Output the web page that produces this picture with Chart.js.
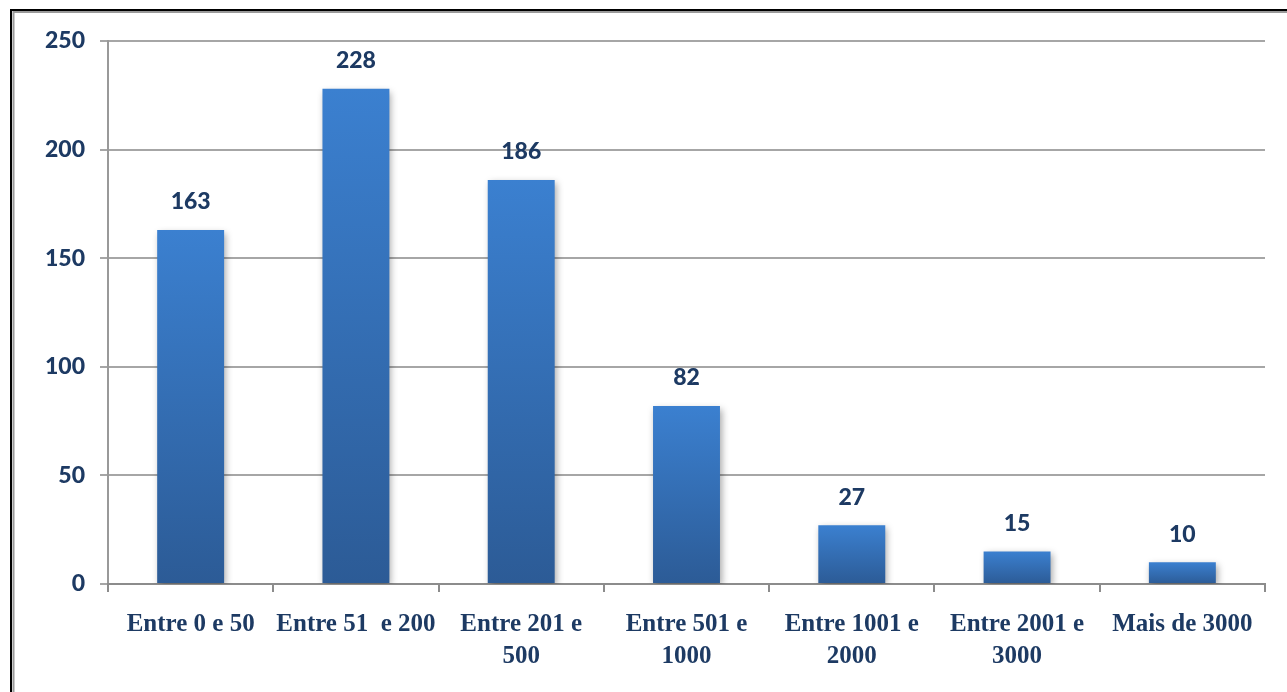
<!DOCTYPE html>
<html>
<head>
<meta charset="utf-8">
<script src="https://cdn.jsdelivr.net/npm/chart.js@4/dist/chart.umd.min.js"></script>
<style>
html,body{margin:0;padding:0;background:#fff;}
#wrap{position:absolute;left:0;top:0;width:1287px;height:692px;}
</style>
</head>
<body>
<div id="wrap"><canvas id="c" width="1287" height="692"></canvas></div>
<script>
const categories = [
  ["Entre 0 e 50"],
  ["Entre 51  e 200"],
  ["Entre 201 e", "500"],
  ["Entre 501 e", "1000"],
  ["Entre 1001 e", "2000"],
  ["Entre 2001 e", "3000"],
  ["Mais de 3000"]
];
const values = [163, 228, 186, 82, 27, 15, 10];
const yTicks = [0, 50, 100, 150, 200, 250];

const NAVY = '#1d3a63';

const frame = {
  id: 'frame',
  afterDraw(chart) {
    const ctx = chart.ctx;
    ctx.save();
    ctx.lineWidth = 2;
    ctx.strokeStyle = '#000';
    ctx.beginPath();
    ctx.moveTo(11, 692); ctx.lineTo(11, 10); ctx.lineTo(1287, 10);
    ctx.stroke();
    ctx.strokeStyle = '#9a9a9a';
    ctx.beginPath();
    ctx.moveTo(13.5, 692); ctx.lineTo(13.5, 12); ctx.lineTo(1287, 12);
    ctx.stroke();
    ctx.restore();
  }
};

const shadow = {
  id: 'shadow',
  beforeDatasetDraw(chart) {
    const ctx = chart.ctx;
    ctx.save();
    ctx.shadowColor = 'rgba(0,0,0,0.35)';
    ctx.shadowBlur = 7;
    ctx.shadowOffsetX = 2;
    ctx.shadowOffsetY = 3;
  },
  afterDatasetDraw(chart) {
    chart.ctx.restore();
  }
};

const valueLabels = {
  id: 'valueLabels',
  afterDatasetsDraw(chart) {
    const ctx = chart.ctx;
    const meta = chart.getDatasetMeta(0);
    ctx.save();
    ctx.font = '900 23px Lato, "Open Sans", sans-serif';
    ctx.fillStyle = NAVY;
    ctx.textAlign = 'center';
    ctx.textBaseline = 'middle';
    meta.data.forEach((bar, i) => {
      ctx.fillText(String(values[i]), bar.x, bar.y - 28);
    });
    ctx.restore();
  }
};

new Chart(document.getElementById('c'), {
  type: 'bar',
  data: {
    labels: categories,
    datasets: [{
      data: values,
      backgroundColor(context) {
        const chart = context.chart;
        const ys = chart.scales && chart.scales.y;
        if (!ys || context.dataIndex === undefined) return '#3570b8';
        const v = context.raw;
        const top = ys.getPixelForValue(v);
        const bot = ys.getPixelForValue(0);
        if (!isFinite(top) || !isFinite(bot) || top === bot) return '#3570b8';
        const g = chart.ctx.createLinearGradient(0, top, 0, bot);
        g.addColorStop(0, '#3b80d0');
        g.addColorStop(1, '#2c5b96');
        return g;
      },
      borderWidth: 0,
      barPercentage: 0.405,
      categoryPercentage: 1
    }]
  },
  options: {
    responsive: false,
    animation: false,
    devicePixelRatio: 1,
    layout: { padding: { left: 0, right: 22, top: 41, bottom: 0 } },
    plugins: {
      legend: { display: false },
      tooltip: { enabled: false }
    },
    scales: {
      y: {
        min: 0, max: 250,
        afterFit(s) { s.width = 108; },
        afterBuildTicks(s) { s.ticks = yTicks.map(v => ({ value: v })); },
        ticks: {
          font: { family: 'Lato, "Open Sans", sans-serif', size: 23, weight: '900' },
          color: NAVY,
          padding: 15
        },
        grid: { color: '#a6a6a6', lineWidth: 2, tickLength: 8, drawTicks: true },
        border: { color: '#999999', width: 2 }
      },
      x: {
        afterFit(s) { s.height = 108; },
        ticks: {
          font: { family: '"Liberation Serif", "Times New Roman", serif', size: 25, weight: 'bold', lineHeight: 1.28 },
          color: NAVY,
          padding: 17,
          maxRotation: 0,
          autoSkip: false
        },
        grid: { offset: true, drawOnChartArea: false, drawTicks: true, tickLength: 8, color: '#8c8c8c', lineWidth: 2 },
        border: { color: '#8c8c8c', width: 2 }
      }
    }
  },
  plugins: [shadow, valueLabels, frame]
});
</script>
</body>
</html>
